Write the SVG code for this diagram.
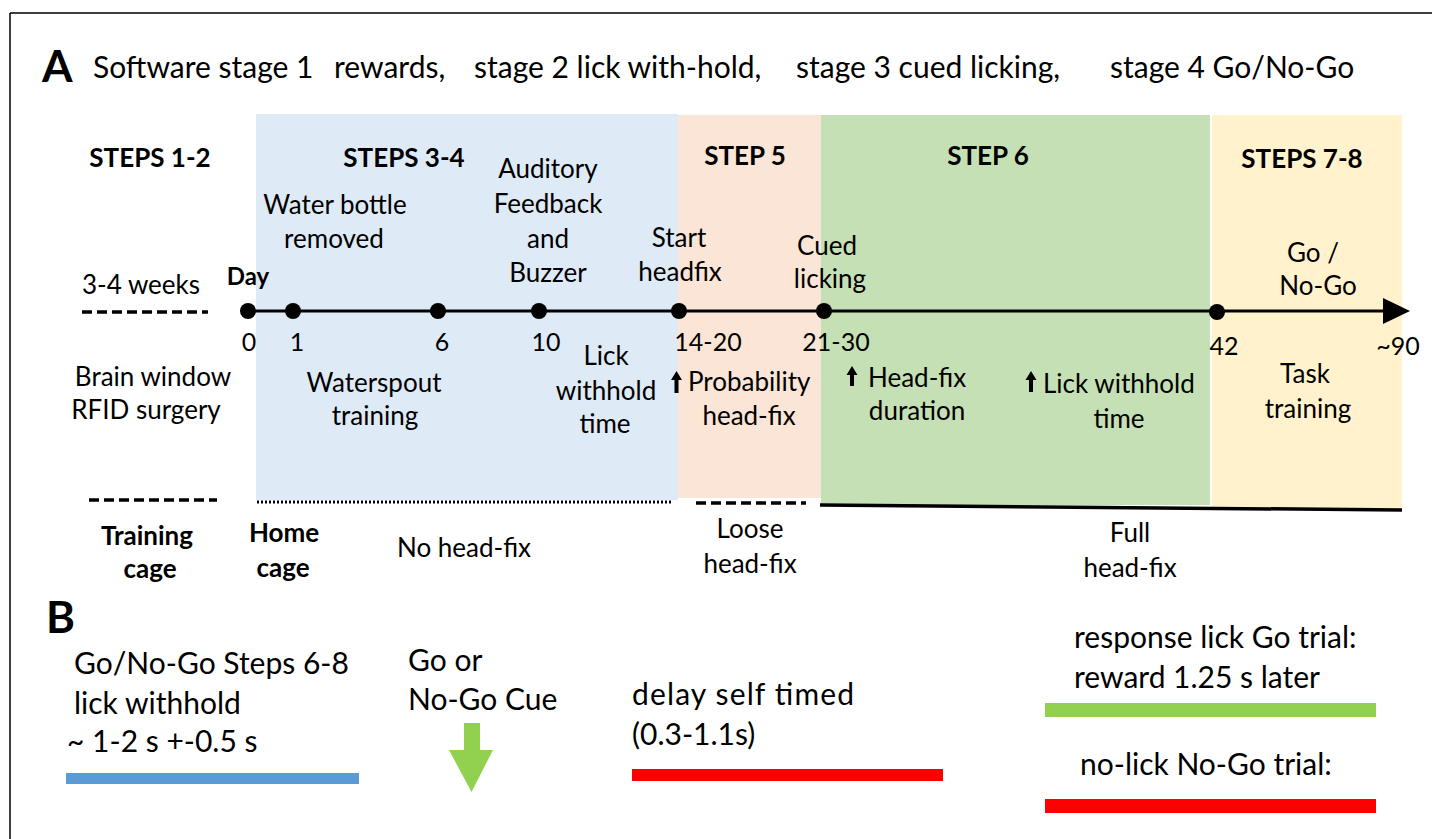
<svg xmlns="http://www.w3.org/2000/svg" width="1432" height="839" viewBox="0 0 1432 839">
<style>
text{font-family:Lato,"Open Sans","Liberation Sans",sans-serif;fill:#000}
.h{font-size:30px}
.s{font-size:26px;font-weight:bold;text-anchor:middle}
.t{font-size:26px;text-anchor:middle}
.n{font-size:25px;text-anchor:middle}
.p{font-size:30px}
.L{font-size:44px;font-weight:bold}
.dash{stroke:#000;stroke-width:3.5;stroke-dasharray:10 5;fill:none}
.dot{fill:#000}
.up{fill:#000}
</style>
<g id="frame"><path d="M10 13H1432M10 13V839" stroke="#000" stroke-width="1.5" fill="none"/></g>
<g id="bands">
<rect x="256" y="114" width="422" height="386" fill="#DEEAF6"/>
<rect x="678" y="115" width="143" height="383" fill="#FBE5D6"/>
<rect x="821" y="115" width="389" height="390" fill="#C5E0B4"/>
<rect x="1212" y="115" width="190" height="394" fill="#FFF2CC"/>
</g>
<g id="header">
<text class="L" x="42" y="82">A</text>
<text class="h" x="93" y="78">Software stage 1</text>
<text class="h" x="334" y="78">rewards,</text>
<text class="h" x="474" y="78">stage 2 lick with-hold,</text>
<text class="h" x="796" y="78">stage 3 cued licking,</text>
<text class="h" x="1110" y="78">stage 4 Go/No-Go</text>
</g>
<g id="steps">
<text class="s" x="150" y="167">STEPS 1-2</text>
<text class="s" x="404" y="167">STEPS 3-4</text>
<text class="s" x="745" y="165">STEP 5</text>
<text class="s" x="988" y="165">STEP 6</text>
<text class="s" x="1302" y="168">STEPS 7-8</text>
</g>
<g id="connectors">
<line x1="248" y1="311" x2="1386" y2="311" stroke="#000" stroke-width="3"/>
<polygon points="1383,298 1410,311 1383,324" fill="#000"/>
<line class="dash" x1="82" y1="312" x2="208" y2="312"/>
<line class="dash" x1="89" y1="500" x2="217" y2="500"/>
<line x1="257" y1="502" x2="672" y2="502" stroke="#000" stroke-width="3" stroke-dasharray="2 2"/>
<line class="dash" x1="696" y1="503" x2="806" y2="503"/>
<line x1="820" y1="505" x2="1402" y2="510" stroke="#000" stroke-width="3.5"/>
</g>
<g id="dots">
<circle class="dot" cx="248" cy="311" r="8"/>
<circle class="dot" cx="293" cy="311" r="8"/>
<circle class="dot" cx="438" cy="311" r="8"/>
<circle class="dot" cx="539" cy="311" r="8"/>
<circle class="dot" cx="679" cy="311" r="8"/>
<circle class="dot" cx="824" cy="311" r="8"/>
<circle class="dot" cx="1217" cy="312" r="8"/>
</g>
<g id="day-labels">
<text class="n" x="249" y="351">0</text>
<text class="n" x="297" y="351">1</text>
<text class="n" x="442" y="351">6</text>
<text class="n" x="546" y="351">10</text>
<text class="n" x="708" y="351">14-20</text>
<text class="n" x="836" y="351">21-30</text>
<text class="n" x="1224" y="355">42</text>
<text class="n" x="1398" y="355">~90</text>
<text x="248" y="285" style="font-size:24px;font-weight:bold;text-anchor:middle">Day</text>
<text class="t" x="141" y="294">3-4 weeks</text>
</g>
<g id="events-above">
<text class="t" x="335" y="214">Water bottle</text>
<text class="t" x="334" y="248">removed</text>
<text class="t" x="548" y="178">Auditory</text>
<text class="t" x="548" y="213">Feedback</text>
<text class="t" x="548" y="248">and</text>
<text class="t" x="548" y="282">Buzzer</text>
<text class="t" x="679" y="247">Start</text>
<text class="t" x="680" y="281">headfix</text>
<text class="t" x="827" y="255">Cued</text>
<text class="t" x="830" y="288">licking</text>
<text class="t" x="1313" y="262">Go /</text>
<text class="t" x="1318" y="295">No-Go</text>
</g>
<g id="events-below">
<text class="t" x="153" y="386">Brain window</text>
<text class="t" x="146" y="419">RFID surgery</text>
<text class="t" x="374" y="392">Waterspout</text>
<text class="t" x="375" y="425">training</text>
<text class="t" x="606" y="365">Lick</text>
<text class="t" x="606" y="400">withhold</text>
<text class="t" x="605" y="433">time</text>
<path class="up" d="M676.5 371L682 380H678.5V393H674.5V380H671Z"/>
<text x="688" y="391" style="font-size:26px">Probability</text>
<text class="t" x="749" y="425">head-fix</text>
<path class="up" d="M852 366L857.5 375H854V386H850V375H846.5Z"/>
<text x="868" y="387" style="font-size:26px">Head-fix</text>
<text class="t" x="917" y="420">duration</text>
<path class="up" d="M1031 371L1036.5 380H1033V392H1029V380H1025.5Z"/>
<text x="1043" y="393" style="font-size:26px">Lick withhold</text>
<text class="t" x="1119" y="428">time</text>
<text class="t" x="1305" y="383">Task</text>
<text class="t" x="1308" y="418">training</text>
</g>
<g id="setting-labels">
<text class="s" x="147" y="545">Training</text>
<text class="s" x="150" y="578">cage</text>
<text class="s" x="284" y="542">Home</text>
<text class="s" x="283" y="577">cage</text>
<text class="t" x="464" y="557">No head-fix</text>
<text class="t" x="750" y="538">Loose</text>
<text class="t" x="750" y="573">head-fix</text>
<text class="t" x="1130" y="542">Full</text>
<text class="t" x="1130" y="577">head-fix</text>
</g>
<g id="panel-b">
<text class="L" x="46" y="633">B</text>
<text class="p" x="74" y="674">Go/No-Go Steps 6-8</text>
<text class="p" x="74" y="714">lick withhold</text>
<text class="p" x="67" y="752">~ 1-2 s +-0.5 s</text>
<rect x="66" y="773" width="293" height="11" fill="#5B9BD5"/>
<text class="p" x="408" y="671">Go or</text>
<text class="p" x="408" y="710">No-Go Cue</text>
<path d="M464 723H480V750H493L471.5 792L449 750H464Z" fill="#92D050"/>
<text class="p" x="632" y="705" textLength="222">delay self timed</text>
<text class="p" x="632" y="745">(0.3-1.1s)</text>
<rect x="632" y="769" width="311" height="12" fill="#FF0000"/>
<text class="p" x="1074" y="648">response lick Go trial:</text>
<text class="p" x="1074" y="688">reward 1.25 s later</text>
<rect x="1045" y="703" width="331" height="14" fill="#92D050"/>
<text class="p" x="1080" y="775">no-lick No-Go trial:</text>
<rect x="1045" y="799" width="331" height="14" fill="#FF0000"/>
</g>
</svg>
